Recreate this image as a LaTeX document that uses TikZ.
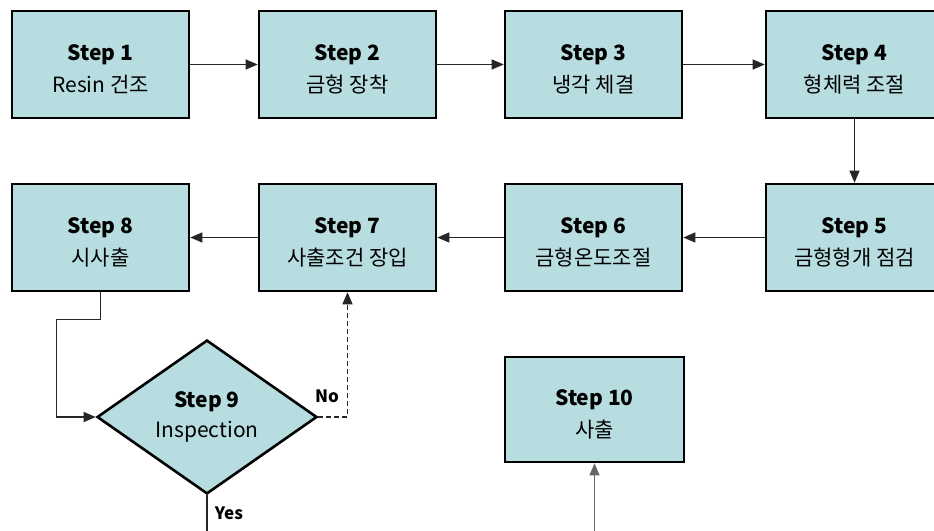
\documentclass[tikz,border=0pt]{standalone}
\usepackage{fontspec}
\setmainfont{Noto Sans CJK KR}
\usetikzlibrary{arrows.meta,shapes.geometric}
\definecolor{boxfill}{RGB}{183,221,225}
\newcommand{\stl}[1]{\rule{0pt}{26pt}\textbf{#1}}
\begin{document}
\begin{tikzpicture}[x=1pt,y=-1pt,
  stepbox/.style={draw=black,line width=2.6pt,fill=boxfill,minimum width=177pt,minimum height=107pt,inner sep=0pt,align=center,font=\fontsize{21}{32}\selectfont},
  decbox/.style={diamond,draw=black,line width=2.6pt,fill=boxfill,minimum width=220pt,minimum height=148pt,inner sep=0pt,align=center,font=\fontsize{21}{30}\selectfont},
  conn/.style={line width=1.2pt,draw=black!85,-{Triangle[length=12pt,width=10pt]}},
  lbl/.style={font=\bfseries\fontsize{17}{17}\selectfont,inner sep=0pt}]
\fill[white] (0,0) rectangle (934,530);
\useasboundingbox (0,0) rectangle (934,530);
\node[stepbox] (s1) at (100.5,64.5) {\stl{Step 1}\\Resin 건조};
\node[stepbox] (s2) at (347.5,64.5) {\stl{Step 2}\\금형 장착};
\node[stepbox] (s3) at (593.5,64.5) {\stl{Step 3}\\냉각 체결};
\node[stepbox] (s4) at (854.5,64.5) {\stl{Step 4}\\형체력 조절};
\node[stepbox] (s5) at (854.5,237.5) {\stl{Step 5}\\금형형개 점검};
\node[stepbox] (s6) at (593.5,237.5) {\stl{Step 6}\\금형온도조절};
\node[stepbox] (s7) at (347.5,237.5) {\stl{Step 7}\\사출조건 장입};
\node[stepbox] (s8) at (100.5,237.5) {\stl{Step 8}\\시사출};
\node[decbox] (s9) at (207,417) {\textbf{Step 9}\\Inspection};
\node[stepbox,minimum width=179pt,minimum height=105pt] (s10) at (594.5,409.5) {\stl{Step 10}\\사출};
\coordinate (yend) at (207,531);
\coordinate (s10in) at (594.5,531);
\draw[conn] (s1) -- (s2);
\draw[conn] (s2) -- (s3);
\draw[conn] (s3) -- (s4);
\draw[conn] (s4) -- (s5);
\draw[conn] (s5) -- (s6);
\draw[conn] (s6) -- (s7);
\draw[conn] (s7) -- (s8);
\draw[conn] (s8.south) -- ++(0,27) -| ([xshift=-39pt]s9.west) -- (s9.west);
\draw[conn,dashed,dash pattern=on 5pt off 3pt] (s9.east) -| (s7.south);
\draw[line width=1.2pt,draw=black!85] (s9.south) -- (yend);
\draw[conn,draw=black!60] (s10in) -- (s10.south);
\node[lbl] (no) at (327,396) {No};
\node[lbl] (yes) at (229,513) {Yes};
\end{tikzpicture}
\end{document}
